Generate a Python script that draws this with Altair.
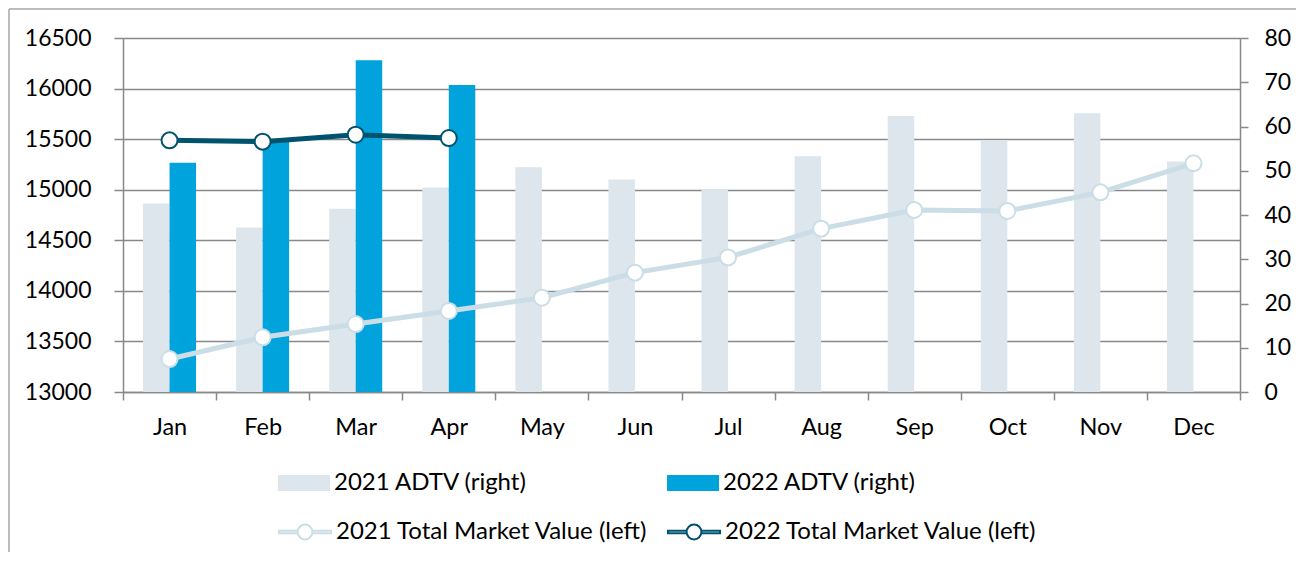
import altair as alt
import pandas as pd

months = ["Jan", "Feb", "Mar", "Apr", "May", "Jun", "Jul", "Aug", "Sep", "Oct", "Nov", "Dec"]
adtv_2021 = [42.6, 37.2, 41.4, 46.2, 50.8, 48.0, 45.8, 53.3, 62.4, 56.9, 63.0, 52.1]
adtv_2022 = [51.8, 56.5, 75.0, 69.4]
tmv_2021 = [13326, 13541, 13672, 13801, 13932, 14180, 14331, 14615, 14800, 14790, 14974, 15261]
tmv_2022 = [15488, 15475, 15544, 15511]

s_a21 = "2021 ADTV (right)"
s_a22 = "2022 ADTV (right)"
s_t21 = "2021 Total Market Value (left)"
s_t22 = "2022 Total Market Value (left)"
bar_colors = ["#dde6ec", "#00a3dc"]
line_colors = ["#cbdde6", "#00536e"]

bar_rows = [{"month": m, "series": s_a21, "value": v} for m, v in zip(months, adtv_2021)]
bar_rows += [{"month": m, "series": s_a22, "value": v} for m, v in zip(months, adtv_2022)]
line_rows = [{"month": m, "series": s_t21, "value": v} for m, v in zip(months, tmv_2021)]
line_rows += [{"month": m, "series": s_t22, "value": v} for m, v in zip(months, tmv_2022)]
df_bar = pd.DataFrame(bar_rows)
df_line = pd.DataFrame(line_rows)

GRAY = "#898989"
FONT = "Lato"
FS_AX = 23
FS_X = 23.5
FS_LEG = 24

# legend symbol paths (unit = 20px with symbolSize 1600)
bar_path = "M-1.3,-0.4H1.3V0.4H-1.3Z"
line_path = ("M-1.3,-0.06H-0.37V0.06H-1.3Z M0.37,-0.06H1.3V0.06H0.37Z "
             "M0.37,0A0.37,0.37 0 1,1 -0.37,0A0.37,0.37 0 1,1 0.37,0Z")

fill_legend = alt.Legend(
    orient="none", legendX=161, legendY=425, direction="horizontal", columns=2,
    title=None, labelFont=FONT, labelFontSize=FS_LEG, labelColor="#000000",
    labelLimit=500, labelOffset=10, columnPadding=139, padding=0,
    symbolSize=1600, symbolType=bar_path, symbolStrokeWidth=0, symbolOpacity=1,
)
stroke_legend = alt.Legend(
    orient="none", legendX=161, legendY=473, direction="horizontal", columns=2,
    title=None, labelFont=FONT, labelFontSize=FS_LEG, labelColor="#000000",
    labelLimit=500, labelOffset=10, columnPadding=16, padding=0,
    symbolSize=1600, symbolType=line_path, symbolStrokeWidth=2, symbolOpacity=1,
    symbolFillColor="white",
)

fill_enc = alt.Fill("series:N", scale=alt.Scale(domain=[s_a21, s_a22], range=bar_colors), legend=fill_legend)
stroke_enc = alt.Stroke("series:N", scale=alt.Scale(domain=[s_t21, s_t22], range=line_colors), legend=stroke_legend)

x_enc = alt.X(
    "month:N", sort=months, title=None,
    scale=alt.Scale(domain=months, paddingInner=0, paddingOuter=0),
    axis=alt.Axis(labelAngle=0, tickBand="extent", tickSize=8, tickColor=GRAY, tickWidth=1.5,
                  domainColor=GRAY, domainWidth=1.5, labelFont=FONT, labelFontSize=FS_X,
                  labelColor="#000000", labelPadding=15, grid=False),
)

y_right = alt.Y(
    "value:Q", title=None,
    scale=alt.Scale(domain=[0, 80], nice=False, zero=True),
    axis=alt.Axis(orient="right", values=list(range(0, 81, 10)), grid=False, tickSize=8,
                  tickColor=GRAY, tickWidth=1.5, domainColor=GRAY, domainWidth=1.5,
                  labelFont=FONT, labelFontSize=FS_AX, labelColor="#000000", labelPadding=16),
)
y_left = alt.Y(
    "value:Q", title=None,
    scale=alt.Scale(domain=[13000, 16500], nice=False, zero=False),
    axis=alt.Axis(orient="left", values=list(range(13000, 16501, 500)), format="d", grid=True,
                  gridColor=GRAY, gridWidth=1.3, tickSize=9, tickColor=GRAY, tickWidth=1.5,
                  domainColor=GRAY, domainWidth=1.5, labelFont=FONT, labelFontSize=FS_AX,
                  labelColor="#000000", labelPadding=23),
)

bars = alt.Chart(df_bar).mark_bar().encode(
    x=x_enc,
    xOffset=alt.XOffset("series:N", scale=alt.Scale(domain=[s_a21, s_a22], paddingInner=0, paddingOuter=0.756)),
    y=y_right,
    fill=fill_enc,
)

lines = alt.Chart(df_line).mark_line(strokeWidth=5).encode(x=x_enc, y=y_left, stroke=stroke_enc)
points = alt.Chart(df_line).mark_point(shape="circle", size=256, filled=False, fill="white", fillOpacity=1,
                                       strokeWidth=2, opacity=1).encode(x=x_enc, y=y_left, stroke=stroke_enc)

frame_df = pd.DataFrame({"a": [0]})
top_rule = alt.Chart(frame_df).mark_rule(color="#a6a6a6", strokeWidth=1.5).encode(
    x=alt.value(-114), x2=alt.value(1173), y=alt.value(-29))
left_rule = alt.Chart(frame_df).mark_rule(color="#a6a6a6", strokeWidth=1.5).encode(
    x=alt.value(-114), y=alt.value(-29), y2=alt.value(514))

chart = alt.layer(
    top_rule, left_rule, bars, alt.layer(lines, points)
).resolve_scale(y="independent").properties(
    width=1117, height=354,
    autosize=alt.AutoSizeParams(type="none"),
    padding={"left": 115, "top": 30, "right": 56, "bottom": 160},
).configure_view(stroke=None).configure(font=FONT)

chart.save("out.html", embed_options={"renderer": "svg", "actions": False})
